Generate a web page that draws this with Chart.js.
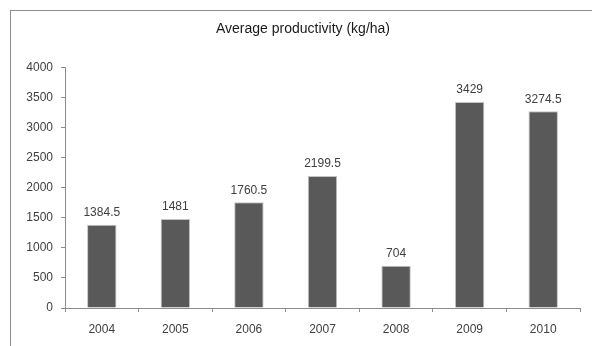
<!DOCTYPE html>
<html>
<head>
<meta charset="utf-8">
<script src="https://cdn.jsdelivr.net/npm/chart.js@4"></script>
<style>
  html,body{margin:0;padding:0;background:#fff;overflow:hidden;}
  #wrap{position:relative;width:592px;height:346px;}
  #frame{position:absolute;left:10px;top:10px;width:640px;height:400px;border:1px solid #8c8c8c;box-sizing:border-box;}
  canvas{position:absolute;left:0;top:0;}
</style>
</head>
<body>
<div id="wrap">
  <div id="frame"></div>
  <canvas id="chart" width="592" height="346"></canvas>
</div>
<script>
const years = ['2004','2005','2006','2007','2008','2009','2010'];
const productivity = [1384.5, 1481, 1760.5, 2199.5, 704, 3429, 3274.5];
const chartTitle = 'Average productivity (kg/ha)';

const FONT = '"Liberation Sans", Arial, sans-serif';

// value labels above each bar
const barLabels = {
  id:'barLabels',
  afterDatasetsDraw(chart){
    const ctx = chart.ctx;
    const meta = chart.getDatasetMeta(0);
    ctx.save();
    ctx.font = '12px ' + FONT;
    ctx.fillStyle = '#404040';
    ctx.textAlign = 'center';
    ctx.textBaseline = 'bottom';
    meta.data.forEach((bar,i)=>{
      ctx.fillText(String(productivity[i]), bar.x, bar.y - 6);
    });
    ctx.restore();
  }
};

new Chart(document.getElementById('chart'), {
  type:'bar',
  data:{
    labels: years,
    datasets:[{
      data: productivity,
      backgroundColor:'#595959',
      borderColor:'#c4c4c4',
      borderWidth:1,
      categoryPercentage:1,
      barPercentage:0.4
    }]
  },
  options:{
    responsive:false,
    animation:false,
    layout:{padding:{left:26, right:12, top:0, bottom:0}},
    plugins:{
      legend:{display:false},
      tooltip:{enabled:false},
      title:{
        display:true,
        text: chartTitle,
        color:'#1a1a1a',
        font:{family:FONT, size:14, weight:'normal'},
        padding:{top:21, bottom:30}
      }
    },
    scales:{
      x:{
        grid:{drawOnChartArea:false, drawTicks:true, tickLength:4, color:'#8c8c8c'},
        border:{color:'#8c8c8c'},
        ticks:{color:'#404040', font:{family:FONT, size:12}, padding:10},
        afterFit(s){ s.height = 38; }
      },
      y:{
        min:0, max:4000,
        grid:{drawOnChartArea:false, drawTicks:true, tickLength:4, color:'#8c8c8c'},
        border:{color:'#8c8c8c'},
        ticks:{stepSize:500, color:'#404040', font:{family:FONT, size:12}, padding:8,
          callback:(v)=>String(v)},
        afterFit(s){ s.width = 39; }
      }
    }
  },
  plugins:[barLabels]
});
</script>
</body>
</html>
